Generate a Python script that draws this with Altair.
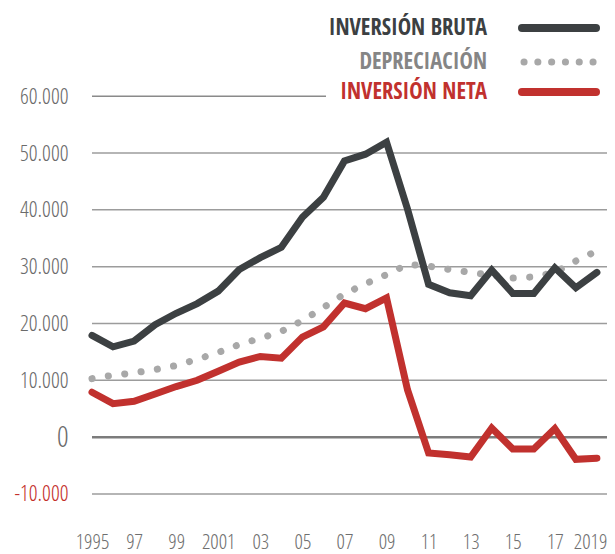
import altair as alt
import pandas as pd

# ---------------- data (in euros) ----------------
YEARS = list(range(1995, 2020))
INVERSION_BRUTA = [17900, 15900, 16900, 19800, 21800, 23500, 25700, 29500, 31600, 33400,
                   38700, 42200, 48600, 49800, 51900, 40100, 26900, 25400, 24900, 29400,
                   25300, 25300, 29800, 26300, 29000]
DEPRECIACION = [10300, 10900, 11300, 11900, 12600, 13700, 14900, 16300, 17400, 18600,
                20500, 22800, 25200, 27000, 28600, 30400, 30100, 29500, 29000, 28500,
                28000, 28200, 29000, 31000, 32800]
INVERSION_NETA = [7900, 5900, 6300, 7600, 8900, 10000, 11600, 13200, 14200, 13900,
                  17600, 19400, 23600, 22600, 24500, 8300, -2800, -3100, -3500, 1600,
                  -2100, -2100, 1500, -3900, -3700]

SERIES = ["INVERSIÓN BRUTA", "DEPRECIACIÓN", "INVERSIÓN NETA"]
COLORS = ["#3c4042", "#a8a8a8", "#c1312e"]
TEXT_COLORS = ["#3c4042", "#858585", "#c1312e"]

Y_TICKS = [-10000, 0, 10000, 20000, 30000, 40000, 50000, 60000]
Y_TICK_LABELS = ["-10.000", "0", "10.000", "20.000", "30.000", "40.000", "50.000", "60.000"]
X_TICKS = [1995, 1997, 1999, 2001, 2003, 2005, 2007, 2009, 2011, 2013, 2015, 2017, 2019]
X_TICK_LABELS = ["1995", "97", "99", "2001", "03", "05", "07", "09", "11", "13", "15", "17", "2019"]

FONT = "Open Sans Condensed, Roboto Condensed, sans-serif"
AXIS_FONT = "Open Sans Condensed Light, Roboto Condensed, sans-serif"
W, H = 515, 500


def label_expr(values, labels):
    expr = "''"
    for v, l in reversed(list(zip(values, labels))):
        expr = f"datum.value == {v} ? '{l}' : ({expr})"
    return expr


df = pd.DataFrame({
    "year": YEARS,
    "bruta": INVERSION_BRUTA,
    "dep": DEPRECIACION,
    "neta": INVERSION_NETA,
})

x_scale = alt.Scale(domain=[1995, 2019.48], nice=False, zero=False)
y_scale = alt.Scale(domain=[-13000, 75000], nice=False, zero=False)

last_year = X_TICKS[-1]
x_axis = alt.Axis(values=X_TICKS, labelExpr=label_expr(X_TICKS, X_TICK_LABELS),
                  domain=False, ticks=False, grid=False, title=None,
                  labelFont=AXIS_FONT, labelFontSize=21, labelColor="#6f6f6f",
                  labelAlign={"condition": {"test": f"datum.value == {last_year}", "value": "right"},
                              "value": "center"},
                  labelOffset={"condition": {"test": f"datum.value == {last_year}", "value": 10},
                               "value": 0},
                  labelBaseline="top", labelPadding=20, labelAngle=0,
                  labelFlush=False, labelOverlap=False)
y_axis = alt.Axis(values=Y_TICKS, labelExpr=label_expr(Y_TICKS, Y_TICK_LABELS),
                  domain=False, ticks=False, grid=False, title=None,
                  labelFont=AXIS_FONT,
                  labelFontSize={"condition": {"test": "datum.value == 0", "value": 29}, "value": 22},
                  labelColor={"condition": {"test": "datum.value < 0", "value": "#c4302b"}, "value": "#6b6b6b"},
                  labelBaseline="middle", labelPadding=24, labelOverlap=False)

base = alt.Chart(df)
X = alt.X("year:Q", scale=x_scale, axis=x_axis)

# grid lines
grid_df = pd.DataFrame({"v": [t for t in Y_TICKS if t not in (0, 60000)]})
grid = alt.Chart(grid_df).mark_rule(color="#9c9c9c", strokeWidth=1.5).encode(
    y=alt.Y("v:Q", scale=y_scale, axis=y_axis), x=alt.value(0), x2=alt.value(W))
grid_top = alt.Chart(pd.DataFrame({"v": [60000]})).mark_rule(color="#8a8a8a", strokeWidth=1.5).encode(
    y=alt.Y("v:Q", scale=y_scale, axis=y_axis), x=alt.value(0), x2=alt.value(234))
zero = alt.Chart(pd.DataFrame({"v": [0]})).mark_rule(color="#7c7c7c", strokeWidth=2.5).encode(
    y=alt.Y("v:Q", scale=y_scale, axis=y_axis), x=alt.value(0), x2=alt.value(W))

dep_line = base.mark_line(color=COLORS[1], strokeWidth=7, strokeCap="round",
                          strokeDash=[0.1, 16.4]).encode(
    x=X, y=alt.Y("dep:Q", scale=y_scale, axis=y_axis))
neta_line = base.mark_line(color=COLORS[2], strokeWidth=7, strokeCap="round",
                           strokeJoin="miter").encode(
    x=X, y=alt.Y("neta:Q", scale=y_scale, axis=y_axis))
bruta_line = base.mark_line(color=COLORS[0], strokeWidth=7, strokeCap="round",
                            strokeJoin="miter").encode(
    x=X, y=alt.Y("bruta:Q", scale=y_scale, axis=y_axis))

# legend (drawn by hand: labels to the left of their line samples)
leg_y = [17, 51, 81]
legend_layers = []
for i, name in enumerate(SERIES):
    ldf = pd.DataFrame({"name": [name]})
    legend_layers.append(
        alt.Chart(ldf).mark_text(font=FONT, fontSize=22.5, fontWeight="bold",
                                 color=TEXT_COLORS[i], align="right", baseline="middle").encode(
            text="name:N", x=alt.value(395), y=alt.value(leg_y[i])))
    if i == 1:
        legend_layers.append(
            alt.Chart(ldf).mark_rule(color=COLORS[1], strokeWidth=7, strokeCap="round",
                                     strokeDash=[0.1, 13.7]).encode(
                x=alt.value(432), x2=alt.value(501.5), y=alt.value(leg_y[i])))
    else:
        legend_layers.append(
            alt.Chart(ldf).mark_rule(color=COLORS[i], strokeWidth=8, strokeCap="round").encode(
                x=alt.value(430), x2=alt.value(504), y=alt.value(leg_y[i])))

chart = alt.layer(grid, grid_top, zero, dep_line, neta_line, bruta_line, *legend_layers).properties(
    width=W, height=H,
    padding={"left": 84, "top": 3, "right": 0, "bottom": 43},
    autosize=alt.AutoSizeParams(type="none"),
    background="white",
).configure_view(stroke=None)

chart.save("out.html", embed_options={"renderer": "svg", "actions": False})
